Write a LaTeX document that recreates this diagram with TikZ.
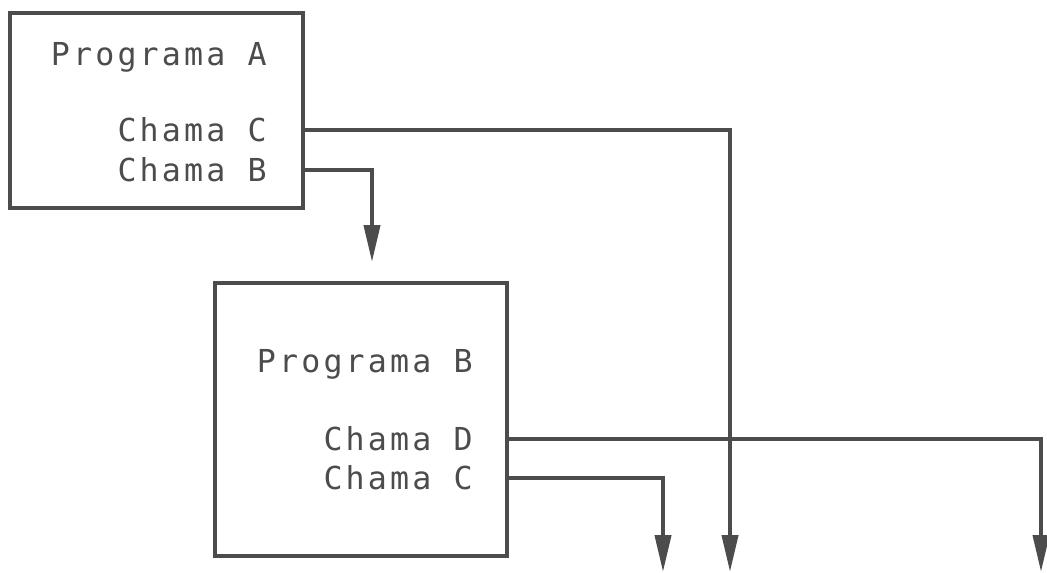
\documentclass[tikz,border=0pt]{standalone}
\usepackage{fontspec}
\newfontfamily\progfont[LetterSpace=10]{DejaVu Sans Mono}
\usetikzlibrary{arrows.meta}
\definecolor{inkgray}{gray}{0.3}
\begin{document}
\begin{tikzpicture}[x=0.02cm,y=-0.02cm,
  every node/.style={font=\progfont\fontsize{18}{20}\selectfont,text=inkgray,inner sep=0pt},
  progbox/.style={draw=inkgray,line width=2.3pt},
  call/.style={draw=inkgray,line width=2.3pt,-{Triangle[length=0.74cm,width=0.32cm]}}]
\useasboundingbox (0,0) rectangle (1047,572);
% programa A
\node[progbox,minimum width=5.86cm,minimum height=3.9cm] (progA) at (156.5,110.5) {};
\node[anchor=base east] (titleA) at (267,65) {Programa A};
\node[anchor=east] (chamaAC) at (267,130) {Chama C};
\node[anchor=east] (chamaAB) at (267,170) {Chama B};
% programa B
\node[progbox,minimum width=5.84cm,minimum height=5.46cm] (progB) at (361,419.5) {};
\node[anchor=base east] (titleB) at (473,372) {Programa B};
\node[anchor=east] (chamaBD) at (473,439) {Chama D};
\node[anchor=east] (chamaBC) at (473,478) {Chama C};
% free ends of the calls
\coordinate (inB) at (372,262);
\coordinate (outAC) at (730,572);
\coordinate (outBC) at (663,572);
\coordinate (outBD) at (1041,572);
\draw[call] (progA.east |- chamaAC.east) -| (outAC);
\draw[call] (progA.east |- chamaAB.east) -| (inB);
\draw[call] (progB.east |- chamaBD.east) -| (outBD);
\draw[call] (progB.east |- chamaBC.east) -| (outBC);
\end{tikzpicture}
\end{document}
